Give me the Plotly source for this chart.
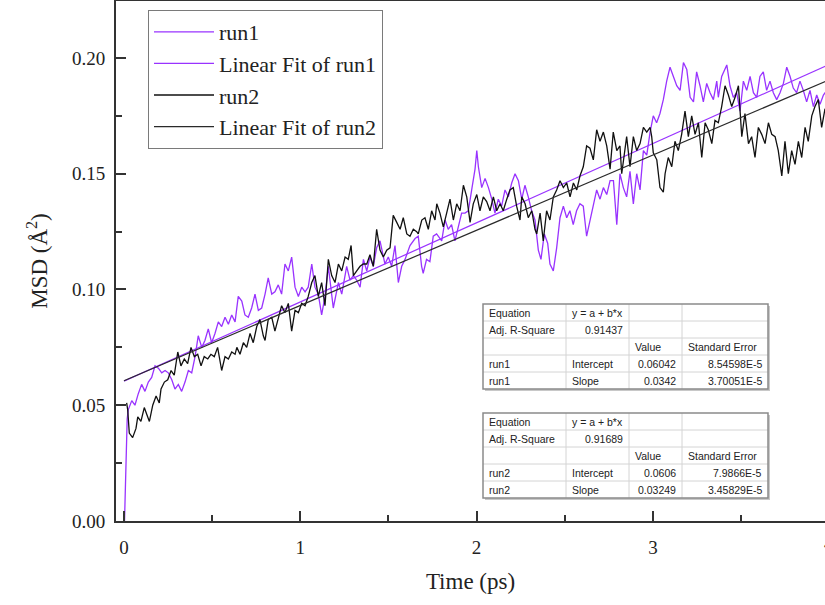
import plotly.graph_objects as go

# ---------------- data ----------------
t_run1 = [0.0, 0.003, 0.018, 0.024, 0.044, 0.062, 0.081, 0.100, 0.119, 0.138, 0.157, 0.176, 0.195, 0.214,
          0.233, 0.251, 0.271, 0.289, 0.308, 0.327, 0.346, 0.365, 0.384, 0.403, 0.421, 0.441, 0.459,
          0.478, 0.497, 0.516, 0.535, 0.554, 0.573, 0.592, 0.611, 0.630, 0.648, 0.668, 0.686, 0.705,
          0.724, 0.743, 0.762, 0.781, 0.800, 0.818, 0.838, 0.856, 0.875, 0.894, 0.913, 0.932, 0.951,
          0.970, 0.989, 1.008, 1.027, 1.045, 1.065, 1.083, 1.102, 1.121, 1.140, 1.159, 1.187, 1.216,
          1.235, 1.263, 1.282, 1.301, 1.320, 1.339, 1.358, 1.377, 1.395, 1.414, 1.433, 1.452, 1.480,
          1.499, 1.518, 1.537, 1.556, 1.575, 1.594, 1.622, 1.651, 1.669, 1.688, 1.697, 1.716, 1.735,
          1.754, 1.773, 1.802, 1.821, 1.839, 1.858, 1.877, 1.896, 1.915, 1.934, 1.953, 1.972, 1.991,
          2.001, 2.010, 2.029, 2.048, 2.067, 2.086, 2.104, 2.123, 2.142, 2.161, 2.180, 2.199, 2.218,
          2.237, 2.256, 2.274, 2.293, 2.312, 2.331, 2.350, 2.365, 2.384, 2.403, 2.416, 2.435, 2.454,
          2.473, 2.492, 2.511, 2.529, 2.548, 2.567, 2.586, 2.605, 2.624, 2.643, 2.662, 2.681, 2.700,
          2.719, 2.738, 2.757, 2.776, 2.795, 2.813, 2.832, 2.851, 2.870, 2.889, 2.908, 2.927, 2.946,
          2.965, 2.984, 3.002, 3.021, 3.040, 3.059, 3.078, 3.097, 3.116, 3.135, 3.154, 3.173, 3.192,
          3.211, 3.230, 3.248, 3.267, 3.286, 3.305, 3.324, 3.343, 3.362, 3.371, 3.390, 3.419, 3.437,
          3.456, 3.475, 3.494, 3.513, 3.532, 3.551, 3.570, 3.589, 3.607, 3.626, 3.645, 3.664, 3.683,
          3.702, 3.721, 3.740, 3.759, 3.778, 3.796, 3.815, 3.834, 3.853, 3.872, 3.891, 3.910, 3.929,
          3.948, 3.967, 3.986, 4.005]
msd_run1 = [0.000, 0.000, 0.044, 0.048, 0.052, 0.050, 0.055, 0.059, 0.056, 0.060, 0.062, 0.067, 0.066, 0.064,
            0.065, 0.064, 0.061, 0.057, 0.059, 0.056, 0.060, 0.065, 0.064, 0.071, 0.080, 0.075, 0.078,
            0.083, 0.077, 0.081, 0.086, 0.084, 0.088, 0.085, 0.089, 0.086, 0.097, 0.095, 0.089, 0.088,
            0.092, 0.098, 0.091, 0.092, 0.098, 0.105, 0.098, 0.099, 0.102, 0.098, 0.111, 0.108, 0.114,
            0.101, 0.097, 0.101, 0.099, 0.101, 0.111, 0.101, 0.098, 0.089, 0.097, 0.110, 0.092, 0.103,
            0.098, 0.110, 0.104, 0.106, 0.104, 0.101, 0.113, 0.108, 0.114, 0.110, 0.118, 0.121, 0.111,
            0.114, 0.110, 0.119, 0.103, 0.110, 0.113, 0.119, 0.122, 0.123, 0.110, 0.107, 0.113, 0.112,
            0.123, 0.124, 0.121, 0.130, 0.126, 0.128, 0.121, 0.127, 0.133, 0.133, 0.134, 0.143, 0.152,
            0.160, 0.153, 0.144, 0.148, 0.144, 0.139, 0.133, 0.139, 0.136, 0.143, 0.140, 0.146, 0.150,
            0.147, 0.139, 0.145, 0.140, 0.134, 0.130, 0.117, 0.113, 0.124, 0.120, 0.111, 0.108, 0.118,
            0.131, 0.136, 0.131, 0.134, 0.128, 0.134, 0.137, 0.136, 0.123, 0.130, 0.136, 0.143, 0.139,
            0.144, 0.141, 0.147, 0.147, 0.128, 0.150, 0.144, 0.140, 0.151, 0.137, 0.150, 0.143, 0.160,
            0.158, 0.168, 0.175, 0.172, 0.176, 0.182, 0.190, 0.196, 0.192, 0.188, 0.186, 0.198, 0.195,
            0.183, 0.181, 0.194, 0.188, 0.181, 0.189, 0.185, 0.182, 0.190, 0.183, 0.192, 0.197, 0.188,
            0.183, 0.185, 0.177, 0.190, 0.186, 0.192, 0.185, 0.183, 0.192, 0.194, 0.186, 0.190, 0.185,
            0.182, 0.185, 0.189, 0.196, 0.192, 0.187, 0.185, 0.190, 0.186, 0.181, 0.186, 0.179, 0.184,
            0.180, 0.184, 0.186, 0.188]

t_run2 = [0.015, 0.021, 0.030, 0.049, 0.068, 0.078, 0.096, 0.115, 0.134, 0.144, 0.163, 0.182, 0.200, 0.210,
          0.229, 0.248, 0.267, 0.285, 0.305, 0.323, 0.342, 0.361, 0.380, 0.399, 0.418, 0.437, 0.455,
          0.475, 0.493, 0.512, 0.531, 0.554, 0.573, 0.592, 0.611, 0.630, 0.640, 0.658, 0.677, 0.696,
          0.715, 0.733, 0.753, 0.771, 0.790, 0.800, 0.818, 0.838, 0.856, 0.875, 0.894, 0.913, 0.932,
          0.951, 0.970, 0.989, 1.008, 1.027, 1.045, 1.065, 1.083, 1.102, 1.121, 1.140, 1.159, 1.178,
          1.197, 1.216, 1.235, 1.254, 1.272, 1.288, 1.301, 1.320, 1.339, 1.357, 1.377, 1.395, 1.414,
          1.433, 1.452, 1.471, 1.490, 1.509, 1.527, 1.547, 1.566, 1.584, 1.604, 1.622, 1.641, 1.660,
          1.669, 1.689, 1.707, 1.726, 1.745, 1.764, 1.774, 1.792, 1.811, 1.830, 1.849, 1.868, 1.887,
          1.906, 1.925, 1.944, 1.963, 1.981, 2.001, 2.019, 2.038, 2.057, 2.076, 2.095, 2.114, 2.133,
          2.151, 2.171, 2.189, 2.208, 2.227, 2.246, 2.256, 2.275, 2.293, 2.313, 2.331, 2.341, 2.360,
          2.378, 2.397, 2.416, 2.435, 2.454, 2.473, 2.492, 2.511, 2.530, 2.549, 2.568, 2.586, 2.605,
          2.624, 2.643, 2.662, 2.681, 2.700, 2.719, 2.738, 2.757, 2.775, 2.795, 2.813, 2.823, 2.851,
          2.870, 2.889, 2.908, 2.927, 2.946, 2.965, 2.984, 2.993, 3.002, 3.022, 3.040, 3.059, 3.069,
          3.087, 3.107, 3.125, 3.144, 3.163, 3.182, 3.201, 3.220, 3.239, 3.258, 3.277, 3.296, 3.314,
          3.334, 3.352, 3.371, 3.390, 3.409, 3.428, 3.447, 3.466, 3.485, 3.504, 3.522, 3.542, 3.560,
          3.579, 3.598, 3.617, 3.636, 3.655, 3.674, 3.693, 3.711, 3.731, 3.749, 3.768, 3.787, 3.806,
          3.825, 3.844, 3.863, 3.881, 3.901, 3.919, 3.938, 3.957, 3.976, 4.000]
msd_run2 = [0.051, 0.048, 0.038, 0.036, 0.040, 0.045, 0.043, 0.049, 0.045, 0.043, 0.050, 0.054, 0.051, 0.057,
            0.060, 0.061, 0.065, 0.063, 0.073, 0.067, 0.070, 0.068, 0.075, 0.071, 0.072, 0.067, 0.071,
            0.070, 0.072, 0.071, 0.075, 0.065, 0.071, 0.070, 0.073, 0.072, 0.075, 0.072, 0.077, 0.075,
            0.081, 0.077, 0.084, 0.087, 0.080, 0.078, 0.087, 0.088, 0.082, 0.087, 0.093, 0.090, 0.094,
            0.082, 0.091, 0.090, 0.094, 0.093, 0.097, 0.103, 0.106, 0.097, 0.103, 0.093, 0.113, 0.106,
            0.103, 0.111, 0.108, 0.114, 0.113, 0.119, 0.106, 0.108, 0.110, 0.111, 0.111, 0.115, 0.110,
            0.126, 0.117, 0.114, 0.117, 0.118, 0.132, 0.129, 0.126, 0.131, 0.124, 0.123, 0.126, 0.125,
            0.124, 0.130, 0.131, 0.126, 0.134, 0.130, 0.137, 0.133, 0.127, 0.133, 0.139, 0.130, 0.137,
            0.134, 0.145, 0.140, 0.129, 0.137, 0.141, 0.134, 0.140, 0.138, 0.134, 0.140, 0.134, 0.137,
            0.134, 0.139, 0.143, 0.144, 0.136, 0.130, 0.140, 0.137, 0.131, 0.134, 0.126, 0.124, 0.133,
            0.121, 0.134, 0.130, 0.140, 0.143, 0.147, 0.144, 0.146, 0.140, 0.146, 0.143, 0.149, 0.153,
            0.162, 0.161, 0.156, 0.169, 0.164, 0.168, 0.162, 0.152, 0.168, 0.160, 0.162, 0.150, 0.166,
            0.153, 0.166, 0.160, 0.163, 0.170, 0.168, 0.170, 0.166, 0.159, 0.156, 0.144, 0.142, 0.150,
            0.157, 0.153, 0.164, 0.160, 0.167, 0.177, 0.166, 0.175, 0.167, 0.172, 0.157, 0.172, 0.169,
            0.163, 0.173, 0.172, 0.179, 0.188, 0.184, 0.179, 0.183, 0.188, 0.166, 0.176, 0.163, 0.166,
            0.157, 0.170, 0.167, 0.163, 0.172, 0.167, 0.166, 0.160, 0.149, 0.164, 0.150, 0.160, 0.154,
            0.164, 0.157, 0.170, 0.164, 0.175, 0.179, 0.182, 0.170, 0.178, 0.176]

series_names = ["run1", "run2"]
fit_intercepts = [0.06042, 0.0606]
fit_slopes = [0.0342, 0.03249]
fit_range = [0.0, 4.0]

table1_cells = [["Equation", "y = a + b*x", "", ""],
                ["Adj. R-Square", "0.91437", "", ""],
                ["", "", "Value", "Standard Error"],
                ["run1", "Intercept", "0.06042", "8.54598E-5"],
                ["run1", "Slope", "0.0342", "3.70051E-5"]]
table2_cells = [["Equation", "y = a + b*x", "", ""],
                ["Adj. R-Square", "0.91689", "", ""],
                ["", "", "Value", "Standard Error"],
                ["run2", "Intercept", "0.0606", "7.9866E-5"],
                ["run2", "Slope", "0.03249", "3.45829E-5"]]

x_range = [-0.0454, 3.976]
y_range = [0.0, 0.2246]

# ---------------- style ----------------
PURPLE = "#9933ff"
BLACK = "#111111"
FIT2 = "#2a2a2a"
AXIS = "#333333"
SERIF = "Liberation Serif, Times New Roman, serif"
SANS = "Liberation Sans, Arial, sans-serif"

W, H = 825, 605
ML, MT, MB, MR = 116, 1, 84, 0
PW, PH = W - ML - MR, H - MT - MB


def pxx(px):
    return (px - ML) / PW


def pxy(py):
    return (MT + PH - py) / PH


fig = go.Figure()
fig.add_trace(go.Scatter(x=t_run1, y=msd_run1, mode="lines", name="run1",
                         line=dict(color=PURPLE, width=1.3)))
fig.add_trace(go.Scatter(x=fit_range,
                         y=[fit_intercepts[0] + fit_slopes[0] * v for v in fit_range],
                         mode="lines", name="Linear Fit of run1",
                         line=dict(color=PURPLE, width=1.2)))
fig.add_trace(go.Scatter(x=t_run2, y=msd_run2, mode="lines", name="run2",
                         line=dict(color=BLACK, width=1.3)))
fig.add_trace(go.Scatter(x=fit_range,
                         y=[fit_intercepts[1] + fit_slopes[1] * v for v in fit_range],
                         mode="lines", name="Linear Fit of run2",
                         line=dict(color=FIT2, width=1.2)))

shapes = []
annotations = []


def add_table(cells, left, top, colw, rowh):
    nrow = len(cells)
    xs = [left]
    for w_ in colw:
        xs.append(xs[-1] + w_)
    ys = [top + i * rowh for i in range(nrow + 1)]
    # shadow
    shapes.append(dict(type="rect", xref="paper", yref="paper",
                       x0=pxx(xs[0] + 2), x1=pxx(xs[-1] + 2), y0=pxy(ys[-1] + 2), y1=pxy(ys[0] + 2),
                       line=dict(width=0), fillcolor="#c8c8c8", layer="above"))
    shapes.append(dict(type="rect", xref="paper", yref="paper",
                       x0=pxx(xs[0]), x1=pxx(xs[-1]), y0=pxy(ys[-1]), y1=pxy(ys[0]),
                       line=dict(width=0), fillcolor="white", layer="above"))
    for yy in ys[1:-1]:
        shapes.append(dict(type="line", xref="paper", yref="paper",
                           x0=pxx(xs[0]), x1=pxx(xs[-1]), y0=pxy(yy), y1=pxy(yy),
                           line=dict(color="#d4d4d4", width=1), layer="above"))
    for xx in xs[1:-1]:
        shapes.append(dict(type="line", xref="paper", yref="paper",
                           x0=pxx(xx), x1=pxx(xx), y0=pxy(ys[0]), y1=pxy(ys[-1]),
                           line=dict(color="#d4d4d4", width=1), layer="above"))
    shapes.append(dict(type="rect", xref="paper", yref="paper",
                       x0=pxx(xs[0]), x1=pxx(xs[-1]), y0=pxy(ys[-1]), y1=pxy(ys[0]),
                       line=dict(color="#8a8a8a", width=1.5), layer="above"))
    for r, row in enumerate(cells):
        for c, txt in enumerate(row):
            if not txt:
                continue
            try:
                float(txt)
                numeric = True
            except ValueError:
                numeric = False
            if numeric:
                xa, xp = "right", xs[c + 1] - 4
            else:
                xa, xp = "left", xs[c] + 4
            annotations.append(dict(text=txt, xref="paper", yref="paper",
                                    x=pxx(xp), y=pxy(ys[r] + rowh / 2),
                                    xanchor=xa, yanchor="middle", showarrow=False,
                                    font=dict(family=SANS, size=10.5, color="#222222")))


add_table(table1_cells, 483, 304, [83, 63, 53, 86], 17)
add_table(table2_cells, 483, 413, [83, 63, 53, 86], 17)

# partially visible "4" tick label at the right edge
annotations.append(dict(text="4", xref="paper", yref="paper",
                        x=(4 - x_range[0]) / (x_range[1] - x_range[0]), y=0,
                        xanchor="center", yanchor="top", yshift=-10, showarrow=False,
                        font=dict(family=SERIF, size=19, color="#222222")))

fig.update_layout(
    width=W, height=H,
    margin=dict(l=ML, r=MR, t=MT, b=MB, pad=0),
    paper_bgcolor="white", plot_bgcolor="white",
    showlegend=True,
    legend=dict(x=pxx(148), y=pxy(10), xanchor="left", yanchor="top",
                bgcolor="white", bordercolor="#7a7a7a", borderwidth=1,
                font=dict(family=SERIF, size=22, color="#222222"),
                tracegroupgap=0, itemwidth=60),
    shapes=shapes,
    annotations=annotations,
    font=dict(family=SERIF, color="#222222"),
)

fig.update_xaxes(
    range=x_range, showgrid=False, zeroline=False,
    showline=True, linecolor=AXIS, linewidth=2, mirror=True,
    ticks="inside", ticklen=10, tickwidth=1.5, tickcolor=AXIS,
    dtick=1, tick0=0, tickfont=dict(family=SERIF, size=19, color="#222222"),
    ticklabelstandoff=8,
    minor=dict(ticks="inside", ticklen=6, tickwidth=1.5, tickcolor=AXIS, dtick=0.5, tick0=0),
    title=dict(text="Time (ps)", font=dict(family=SERIF, size=23, color="#222222"), standoff=16),
)
fig.update_yaxes(
    range=y_range, showgrid=False, zeroline=False,
    showline=True, linecolor=AXIS, linewidth=2,
    ticks="inside", ticklen=10, tickwidth=1.5, tickcolor=AXIS,
    dtick=0.05, tick0=0, tickformat=".2f",
    tickfont=dict(family=SERIF, size=19, color="#222222"),
    ticklabelstandoff=5,
    minor=dict(ticks="inside", ticklen=6, tickwidth=1.5, tickcolor=AXIS, dtick=0.025, tick0=0),
    title=dict(text="MSD (Å<sup>2</sup>)", font=dict(family=SERIF, size=23, color="#222222"), standoff=18),
)

fig.write_html("out.html")
